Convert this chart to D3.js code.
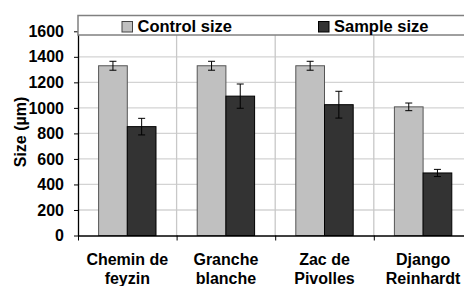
<!DOCTYPE html>
<html><head><meta charset="utf-8">
<script src="https://cdn.jsdelivr.net/npm/d3@7"></script>
<style>
html,body{margin:0;padding:0;background:#fff;}
svg{display:block;font-family:"Liberation Sans",Arial,sans-serif;font-weight:bold;}
</style></head>
<body><svg id="c" width="464" height="286"></svg>
<script>
const categories = [["Chemin de","feyzin"],["Granche","blanche"],["Zac de","Pivolles"],["Django","Reinhardt"]];
const seriesNames = ["Control size","Sample size"];
const controlValues = [1330, 1330, 1330, 1008];
const controlErrors = [35, 35, 35, 30];
const sampleValues = [853, 1092, 1025, 490];
const sampleErrors = [65, 95, 105, 28];
const yTicks = [0,200,400,600,800,1000,1200,1400,1600];
const colors = ["#c0c0c0","#333333"];
const strokes = ["#555555","#000000"];

(function(){
const svg = d3.select("#c");
const pl = 78, pr = 472.4, pt = 31.3, pb = 235.5;
const catKeys = categories.map(c => c.join(" "));
const x0 = d3.scaleBand().domain(catKeys).range([pl, pr]).padding(0);
const x1 = d3.scaleBand().domain(seriesNames).range([0, x0.bandwidth()]).paddingInner(0).paddingOuter(0.718);
const y = d3.scaleLinear().domain([0,1600]).range([pb, pt]);

svg.append("g").selectAll("line").data(yTicks.filter(d=>d>0)).join("line")
  .attr("x1", pl).attr("x2", 464).attr("y1", d=>y(d)).attr("y2", d=>y(d))
  .attr("stroke", "#d3d3d3").attr("stroke-width", 1.3);
svg.append("g").selectAll("line").data(catKeys.slice(1)).join("line")
  .attr("x1", d=>x0(d)).attr("x2", d=>x0(d)).attr("y1", pt).attr("y2", pb)
  .attr("stroke", "#c8c8c8").attr("stroke-width", 1.3);

const data = catKeys.map((k,i)=>({k, vals:[
  {s:seriesNames[0], v:controlValues[i], e:controlErrors[i], c:0},
  {s:seriesNames[1], v:sampleValues[i], e:sampleErrors[i], c:1}]}));

const g = svg.append("g").selectAll("g").data(data).join("g")
  .attr("transform", d=>`translate(${x0(d.k)},0)`);
g.selectAll("rect").data(d=>d.vals).join("rect")
  .attr("x", d=>x1(d.s)).attr("width", x1.bandwidth())
  .attr("y", d=>y(d.v)).attr("height", d=>pb - y(d.v))
  .attr("fill", d=>colors[d.c]).attr("stroke", d=>strokes[d.c]).attr("stroke-width", 1);
const eb = g.selectAll("g.eb").data(d=>d.vals).join("g").attr("class","eb");
const cx = d=>x1(d.s)+x1.bandwidth()/2;
eb.append("line").attr("x1", cx).attr("x2", cx)
  .attr("y1", d=>y(d.v+d.e)).attr("y2", d=>y(d.v-d.e)).attr("stroke","#000").attr("stroke-width",1);
eb.append("line").attr("x1", d=>cx(d)-3.5).attr("x2", d=>cx(d)+3.5)
  .attr("y1", d=>y(d.v+d.e)).attr("y2", d=>y(d.v+d.e)).attr("stroke","#000").attr("stroke-width",1);
eb.append("line").attr("x1", d=>cx(d)-3.5).attr("x2", d=>cx(d)+3.5)
  .attr("y1", d=>y(d.v-d.e)).attr("y2", d=>y(d.v-d.e)).attr("stroke","#000").attr("stroke-width",1);

const ya = svg.append("g").attr("transform", `translate(${pl},0)`)
  .call(d3.axisLeft(y).tickValues(yTicks).tickFormat(d3.format("d")).tickSize(4).tickPadding(10).tickSizeOuter(0));
ya.select(".domain").attr("stroke","#000").attr("stroke-width",1.3);
ya.selectAll(".tick line").attr("stroke","#000");
ya.selectAll("text").attr("font-size",16).attr("font-weight","bold").attr("font-family","Liberation Sans, Arial, sans-serif").attr("fill","#000");

const xa = svg.append("g").attr("transform", `translate(0,${pb})`)
  .call(d3.axisBottom(d3.scaleLinear().domain([0,4]).range([pl,pr])).tickValues([0,1,2,3,4]).tickSize(5).tickFormat("").tickSizeOuter(0));
xa.select(".domain").attr("stroke","#000").attr("stroke-width",1.5);
xa.selectAll(".tick line").attr("stroke","#000");

svg.append("g").selectAll("text").data(categories).join("text")
  .attr("x", (d,i)=>x0(catKeys[i]) + x0.bandwidth()/2).attr("y", 265)
  .attr("text-anchor","middle").attr("font-size",16).attr("fill","#000")
  .each(function(d){
    const t = d3.select(this);
    t.append("tspan").attr("x", t.attr("x")).attr("dy",0).text(d[0]);
    t.append("tspan").attr("x", t.attr("x")).attr("dy",18.5).text(d[1]);
  });

svg.append("text").attr("transform","translate(26,132) rotate(-90)")
  .attr("text-anchor","middle").attr("font-size",16).attr("fill","#000").text("Size (µm)");

const leg = svg.append("g");
leg.append("rect").attr("x", pl).attr("y", 15.5).attr("width", 400).attr("height", 19.5)
  .attr("fill","#fff").attr("stroke","#808080").attr("stroke-width",1.5);
const legX = [122, 318.5];
seriesNames.forEach((s,i)=>{
  leg.append("rect").attr("x", legX[i]).attr("y", 21.5).attr("width", 10.5).attr("height", 10.5)
    .attr("fill", colors[i]).attr("stroke", i===0?"#444":"#000").attr("stroke-width",1);
  leg.append("text").attr("x", legX[i]+15.5).attr("y", 32.3).attr("font-size",16.5).attr("fill","#000").text(s);
});
})();
</script></body></html>
